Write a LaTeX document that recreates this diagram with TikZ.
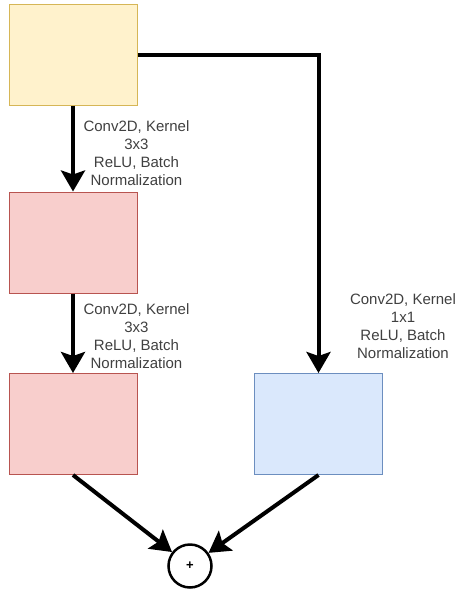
\documentclass[tikz,border=0pt]{standalone}
\usepackage{fontspec}
\setmainfont{Liberation Sans}
\usetikzlibrary{arrows.meta}
\definecolor{yfill}{HTML}{FFF2CC}\definecolor{ydraw}{HTML}{D6B656}
\definecolor{rfill}{HTML}{F8CECC}\definecolor{rdraw}{HTML}{B85450}
\definecolor{bfill}{HTML}{DAE8FC}\definecolor{bdraw}{HTML}{6C8EBF}
\definecolor{txt}{HTML}{404040}
\begin{document}
\begin{tikzpicture}[x=1pt,y=-1pt,
  box/.style={draw, line width=1pt, minimum width=128pt, minimum height=101pt, inner sep=0pt},
  conn/.style={line width=4pt, -{Stealth[length=21pt,width=24pt,inset=4pt]}},
  lbl/.style={align=center, text=txt, font=\fontsize{15pt}{18pt}\selectfont, inner sep=0pt}]
\useasboundingbox (0,0) rectangle (456,592);
\node[box, fill=yfill, draw=ydraw] (in) at (73,54.5) {};
\node[box, fill=rfill, draw=rdraw] (c1) at (73,242.5) {};
\node[box, fill=rfill, draw=rdraw] (c2) at (73,424) {};
\node[box, fill=bfill, draw=bdraw] (sc) at (318.5,424) {};
\node[circle, draw, line width=2.5pt, minimum size=43pt, inner sep=0pt, font=\fontsize{13pt}{13pt}\selectfont\bfseries] (add) at (190,566) {+};
\draw[conn] (in.south) -- (c1.north);
\draw[conn] (c1.south) -- (c2.north);
\draw[conn] (in.east) -- (sc.north |- in.east) -- (sc.north);
\draw[conn] (c2.south) -- (add);
\draw[conn] (sc.south) -- (add);
\node[lbl] (l1) at (136.5,153) {Conv2D, Kernel\\3x3\\ReLU, Batch\\Normalization};
\node[lbl] (l2) at (136.5,336.5) {Conv2D, Kernel\\3x3\\ReLU, Batch\\Normalization};
\node[lbl] (l3) at (403,326.5) {Conv2D, Kernel\\1x1\\ReLU, Batch\\Normalization};
\end{tikzpicture}
\end{document}
